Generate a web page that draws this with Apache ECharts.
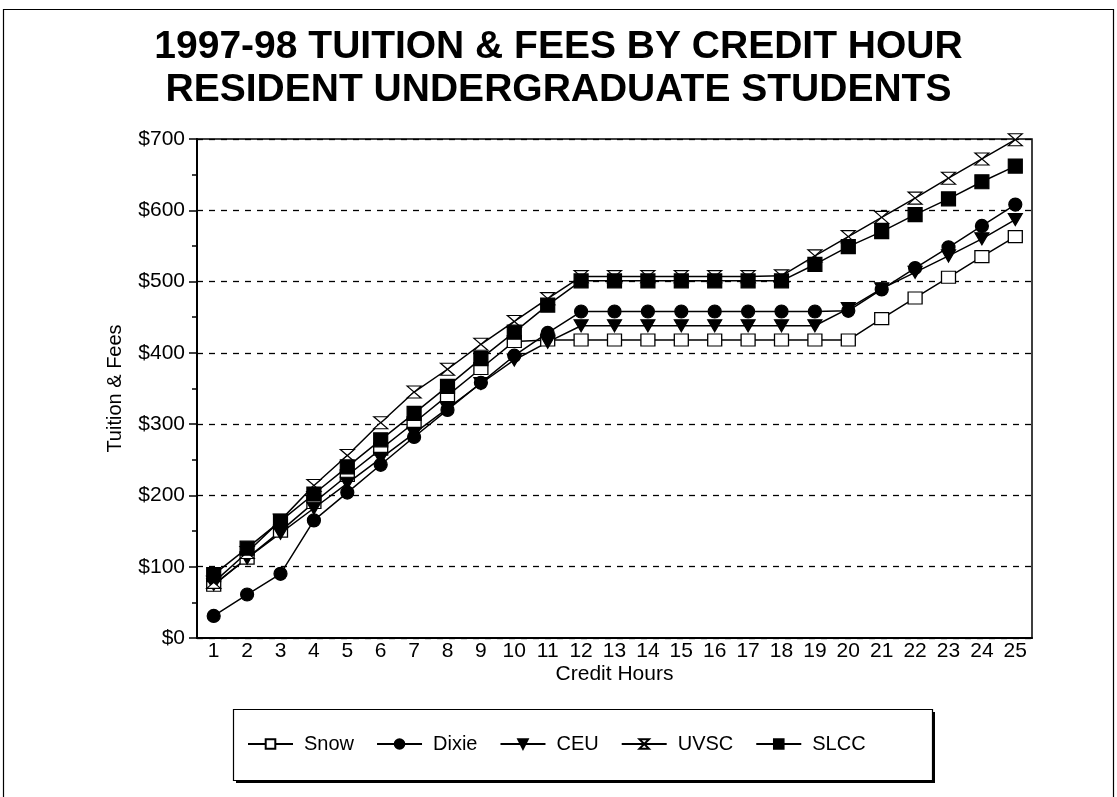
<!DOCTYPE html>
<html>
<head>
<meta charset="utf-8">
<script src="https://cdn.jsdelivr.net/npm/echarts@6/dist/echarts.min.js"></script>
<style>
  html, body { margin: 0; padding: 0; background: #fff; }
  #chart { width: 1117px; height: 797px; }
</style>
</head>
<body>
<div id="chart"></div>
<script>
  // credit hours 1..25
  var hours = ['1','2','3','4','5','6','7','8','9','10','11','12','13','14','15','16','17','18','19','20','21','22','23','24','25']

  var snow  = [74,112,150,190,228,265,302,340,378,416,418,418,418,418,418,418,418,418,418,418,448,477,506,535,563]
  var dixie = [31,61,90,165,204,243,282,320,358,396,428,458,458,458,458,458,458,458,458,459,489,519,548,578,608]
  var ceu   = [75,112,147,182,217,252,287,322,357,390,415,438,438,438,438,438,438,438,438,462,490,513,536,560,587]
  var uvsc  = [78,120,165,214,256,302,345,377,412,444,476,507,507,507,507,507,507,508,536,563,590,617,645,672,699]
  var slcc  = [89,126,164,202,240,278,315,353,392,429,467,501,501,501,501,501,501,501,524,549,570,594,616,640,662]

  var yTicks = [0,100,200,300,400,500,600,700]

  var FONT = 'Liberation Sans, Arial, Helvetica, sans-serif'

  var myChart = echarts.init(document.getElementById('chart'))

  function mkSeries(name, data, symbol, fill, size) {
    return {
      name: name,
      type: 'line',
      data: data,
      symbol: symbol,
      symbolSize: size,
      showAllSymbol: true,
      lineStyle: { color: '#000', width: 1.5 },
      itemStyle: { color: fill, borderColor: '#000', borderWidth: 1.2 },
      emphasis: { disabled: true },
      z: 3
    }
  }

  var option = {
    animation: false,
    backgroundColor: '#fff',
    title: {
      text: '1997-98 TUITION & FEES BY CREDIT HOUR\nRESIDENT UNDERGRADUATE STUDENTS',
      left: 'center',
      top: 21,
      textStyle: { fontFamily: FONT, fontSize: 39, fontWeight: 'bold', color: '#000', lineHeight: 43 }
    },
    graphic: [
      {
        type: 'rect',
        shape: { x: 3.5, y: 9.5, width: 1110, height: 800 },
        style: { fill: 'none', stroke: '#000', lineWidth: 1.2 },
        silent: true
      },
      // legend frame with a drop shadow
      {
        type: 'rect',
        shape: { x: 236, y: 712, width: 699, height: 71 },
        style: { fill: '#000' },
        silent: true, z: 0
      },
      {
        type: 'rect',
        shape: { x: 233.5, y: 709.5, width: 699, height: 71 },
        style: { fill: '#fff', stroke: '#000', lineWidth: 1.2 },
        silent: true, z: 1
      }
    ],
    legend: {
      left: 247,
      top: 734,
      data: ['Snow', 'Dixie', 'CEU', 'UVSC', 'SLCC'],
      itemWidth: 45,
      itemHeight: 12,
      itemGap: 22,
      padding: 0,
      z: 5,
      textStyle: { fontFamily: FONT, fontSize: 20, color: '#000', padding: [0, 0, 0, 6] }
    },
    grid: {
      left: 197,
      right: 85,
      top: 139,
      bottom: 159,
      show: true,
      borderColor: '#000',
      borderWidth: 1.5,
      backgroundColor: '#fff'
    },
    xAxis: {
      type: 'category',
      data: hours,
      boundaryGap: true,
      name: 'Credit Hours',
      nameLocation: 'middle',
      nameGap: 26,
      nameMoveOverlap: false,
      nameTextStyle: { fontFamily: FONT, fontSize: 21, color: '#000' },
      axisLine: { lineStyle: { color: '#000', width: 2 } },
      axisTick: { alignWithLabel: true, inside: true, length: 8, lineStyle: { color: '#000', width: 1.5 } },
      axisLabel: { fontFamily: FONT, fontSize: 21, color: '#000', margin: 3 },
      splitLine: { show: false }
    },
    yAxis: {
      type: 'value',
      min: yTicks[0],
      max: yTicks[yTicks.length - 1],
      interval: 100,
      name: 'Tuition & Fees',
      nameLocation: 'middle',
      nameGap: 72,
      nameMoveOverlap: false,
      nameTextStyle: { fontFamily: FONT, fontSize: 20, color: '#000' },
      axisLine: { show: true, lineStyle: { color: '#000', width: 2 } },
      axisTick: { show: true, length: 8, lineStyle: { color: '#000', width: 1.5 } },
      minorTick: { show: true, splitNumber: 2, length: 5, lineStyle: { color: '#000', width: 1.5 } },
      axisLabel: {
        fontFamily: FONT, fontSize: 21, color: '#000', margin: 12,
        formatter: function (v) { return '$' + v }
      },
      splitLine: { show: true, lineStyle: { color: '#000', width: 1.3, type: [6, 6] } }
    },
    series: [
      mkSeries('Snow', snow, 'rect', '#fff', [14, 12]),
      mkSeries('Dixie', dixie, 'circle', '#000', 13),
      mkSeries('CEU', ceu, 'path://M0,0 L10,0 L5,9 Z', '#000', [14, 12]),
      mkSeries('UVSC', uvsc, 'path://M0,0 L10,0 L0,10 L10,10 Z', '#fff', [14, 12]),
      mkSeries('SLCC', slcc, 'rect', '#000', 14)
    ]
  }
  myChart.setOption(option, true)
</script>
</body>
</html>
